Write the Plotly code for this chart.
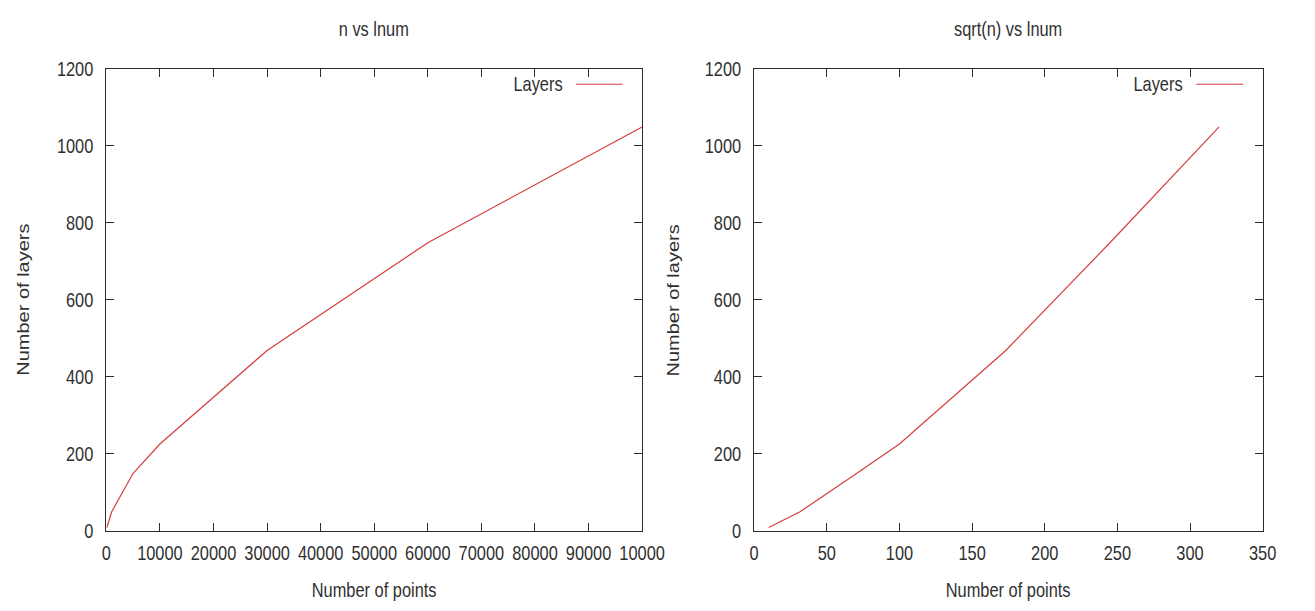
import plotly.graph_objects as go

# Left panel: n vs lnum
n_points = [100, 1000, 5000, 10000, 30000, 60000, 100000]
n_layers = [8, 49, 149, 225, 468, 748, 1049]

# Right panel: sqrt(n) vs lnum
sqrt_points = [10, 31.6, 70.7, 100, 173.2, 244.9, 320]
sqrt_layers = [8, 49, 149, 225, 468, 748, 1049]

left_ticks = [0, 10000, 20000, 30000, 40000, 50000, 60000, 70000, 80000, 90000, 100000]
left_ticktext = ["0", "10000", "20000", "30000", "40000", "50000", "60000", "70000", "80000", "90000", "10000"]
right_ticks = [0, 50, 100, 150, 200, 250, 300, 350]
y_ticks = [0, 200, 400, 600, 800, 1000, 1200]

W, H = 1315, 611
LINE = "rgb(212,62,62)"
AX = "#2b2b2b"
TXT = "#303030"
FONT = "Liberation Sans, Arial, sans-serif"
FS = 20

def px(x):
    return x / W

def py(y):
    return 1 - y / H

fig = go.Figure()
fig.add_trace(go.Scatter(x=n_points, y=n_layers, mode="lines", line=dict(color=LINE, width=1.2),
                         xaxis="x", yaxis="y", showlegend=False, hoverinfo="skip"))
fig.add_trace(go.Scatter(x=sqrt_points, y=sqrt_layers, mode="lines", line=dict(color=LINE, width=1.2),
                         xaxis="x2", yaxis="y2", showlegend=False, hoverinfo="skip"))

axcommon = dict(showline=True, linecolor=AX, linewidth=1, mirror="allticks", ticks="inside",
                ticklen=8, tickcolor=AX, showgrid=False, zeroline=False,
                tickfont=dict(family=FONT, size=FS, color=TXT), tickangle=0)

L0, L1 = 103, 653
R0, R1 = 768, 1290
ydom = [py(539), py(60)]
fig.update_layout(
    width=W, height=H, margin=dict(l=0, r=0, t=0, b=0),
    paper_bgcolor="white", plot_bgcolor="white",
    xaxis=dict(domain=[px(L0), px(L1)], range=[0, 100000], tickvals=left_ticks,
               ticktext=left_ticktext, anchor="y", ticklabelstandoff=4, **axcommon),
    yaxis=dict(domain=ydom, range=[0, 1200], tickvals=y_ticks, anchor="x",
               ticklabelstandoff=8, **axcommon),
    xaxis2=dict(domain=[px(R0), px(R1)], range=[0, 350], tickvals=right_ticks,
                anchor="y2", ticklabelstandoff=4, **axcommon),
    yaxis2=dict(domain=ydom, range=[0, 1200], tickvals=y_ticks, anchor="x2",
                ticklabelstandoff=8, **axcommon),
)

ann = []
def text(x, y, s, size=FS, angle=0):
    ann.append(dict(x=px(x), y=py(y), xref="paper", yref="paper", text=s, showarrow=False,
                    textangle=angle, xanchor="center", yanchor="middle",
                    font=dict(family=FONT, size=size, color=TXT)))

text((L0 + L1) / 2, 19, "n vs lnum")
text((R0 + R1) / 2, 19, "sqrt(n) vs lnum")
text((L0 + L1) / 2, 601, "Number of points")
text((R0 + R1) / 2, 601, "Number of points")
text(17, 300, "Number of layers", angle=-90)
text(684, 300, "Number of layers", angle=-90)
text(L1 - 107, 76, "Layers")
text(R1 - 107, 76, "Layers")
fig.update_layout(annotations=ann)

fig.update_layout(shapes=[
    dict(type="line", xref="paper", yref="paper", x0=px(L1 - 68), x1=px(L1 - 20), y0=py(76), y1=py(76),
         line=dict(color=LINE, width=1.2)),
    dict(type="line", xref="paper", yref="paper", x0=px(R1 - 68), x1=px(R1 - 20), y0=py(76), y1=py(76),
         line=dict(color=LINE, width=1.2)),
])

# condense glyphs horizontally on screen (text stays real SVG text)
squeeze = """
document.body.style.margin='0px';
var gd=document.getElementById('{plot_id}');
var svg=gd.querySelector('svg.main-svg');
gd.querySelectorAll('text').forEach(function(t){
  var x=parseFloat(t.getAttribute('x'))||0, y=parseFloat(t.getAttribute('y'))||0;
  var p=svg.createSVGPoint(); p.x=x; p.y=y;
  var c=t.transform.baseVal.consolidate();
  if(c){p=p.matrixTransform(c.matrix);}
  var m=t.getCTM();
  var rot=m && Math.abs(m.b)>Math.abs(m.a);
  var sx=rot?1:0.82, sy=rot?0.82:1;
  var tr=t.getAttribute('transform')||'';
  t.setAttribute('transform','translate('+p.x+','+p.y+') scale('+sx+','+sy+') translate('+(-p.x)+','+(-p.y)+') '+tr);
});
"""
fig.write_html("out.html", post_script=squeeze)
